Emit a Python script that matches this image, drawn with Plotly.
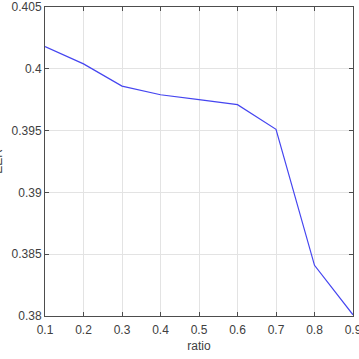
import plotly.graph_objects as go

ratio = [0.1, 0.2, 0.3, 0.4, 0.5, 0.6, 0.7, 0.8, 0.9]
eer = [0.4018, 0.4004, 0.3986, 0.3979, 0.3975, 0.3971, 0.3951, 0.3841, 0.3801]
xticks = [0.1, 0.2, 0.3, 0.4, 0.5, 0.6, 0.7, 0.8, 0.9]
yticks = [0.38, 0.385, 0.39, 0.395, 0.4, 0.405]
ytick_text = ["0.38", "0.385", "0.39", "0.395", "0.4", "0.405"]

font = dict(family="Liberation Sans, Arial", size=12, color="#404040")

fig = go.Figure()
fig.add_trace(go.Scatter(x=ratio, y=eer, mode="lines",
                         line=dict(color="#4545f0", width=1.2), showlegend=False))

axis_common = dict(showline=True, linecolor="#4d4d4d", linewidth=1, mirror="ticks",
                   ticks="inside", ticklen=4, tickcolor="#4d4d4d",
                   showgrid=True, gridcolor="#e3e3e3", gridwidth=1,
                   zeroline=False, tickfont=font, ticklabeloverflow="allow",
                   automargin=False)

fig.update_layout(
    width=359, height=359,
    margin=dict(l=45, r=6, t=7, b=43),
    paper_bgcolor="white", plot_bgcolor="white",
    xaxis=dict(range=[0.1, 0.9], tickvals=xticks, ticktext=[str(v) for v in xticks],
               ticklabelstandoff=3,
               title=dict(text="ratio", font=font, standoff=5),
               **axis_common),
    yaxis=dict(range=[0.38, 0.405], tickvals=yticks, ticktext=ytick_text, **axis_common),
)
fig.add_annotation(text="EER", xref="paper", yref="paper", x=-0.155, y=0.5,
                   xanchor="center", yanchor="middle", textangle=-90, showarrow=False,
                   font=font)
fig.write_html("out.html")
